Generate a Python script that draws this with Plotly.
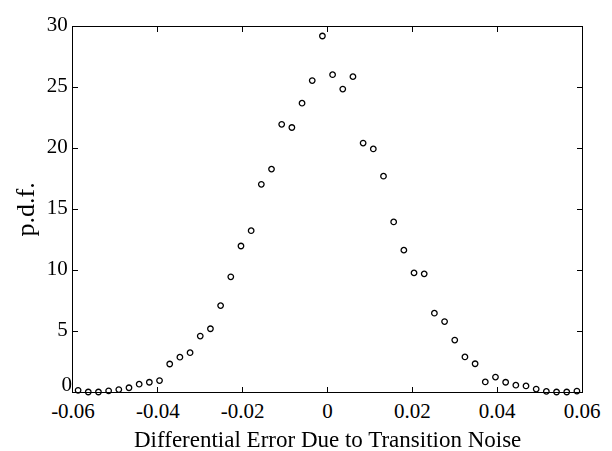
import plotly.graph_objects as go

# Bin centres of the differential error (50 bins)
x_vals = [-0.0588, -0.0564, -0.0540, -0.0516, -0.0492, -0.0468, -0.0444, -0.0420, -0.0396, -0.0372,
          -0.0348, -0.0324, -0.0300, -0.0276, -0.0252, -0.0228, -0.0204, -0.0180, -0.0156, -0.0132,
          -0.0108, -0.0084, -0.0060, -0.0036, -0.0012, 0.0012, 0.0036, 0.0060, 0.0084, 0.0108,
          0.0132, 0.0156, 0.0180, 0.0204, 0.0228, 0.0252, 0.0276, 0.0300, 0.0324, 0.0348,
          0.0372, 0.0396, 0.0420, 0.0444, 0.0468, 0.0492, 0.0516, 0.0540, 0.0564, 0.0588]
pdf_vals = [0.14, 0.0, 0.0, 0.1, 0.2, 0.35, 0.64, 0.8, 0.94, 2.3,
            2.86, 3.23, 4.6, 5.2, 7.1, 9.47, 12.0, 13.26, 17.07, 18.32,
            22.0, 21.74, 23.74, 25.6, 29.26, 26.08, 24.9, 25.92, 20.46, 19.98,
            17.74, 13.98, 11.66, 9.79, 9.71, 6.48, 5.79, 4.27, 2.88, 2.32,
            0.83, 1.23, 0.8, 0.56, 0.5, 0.24, 0.05, 0.0, 0.0, 0.08]

x_ticks = [-0.06, -0.04, -0.02, 0, 0.02, 0.04, 0.06]
x_tick_text = ["-0.06", "-0.04", "-0.02", "0", "0.02", "0.04", "0.06"]
y_ticks = [0, 5, 10, 15, 20, 25, 30]
y_tick_text = ["", "5", "10", "15", "20", "25", "30"]
y_zero_tick = [0]
y_zero_text = ["0"]

font_family = "Liberation Serif, Times New Roman, serif"
tick_font = dict(family=font_family, size=21, color="black")

fig = go.Figure()
fig.add_trace(go.Scatter(
    x=x_vals, y=pdf_vals, mode="markers",
    marker=dict(symbol="circle-open", size=5.5, color="black", line=dict(width=1.3, color="black")),
    showlegend=False, cliponaxis=False, hoverinfo="x+y",
))
# transparent twin so the overlaid axis (carrying the shifted "0" label) is drawn
fig.add_trace(go.Scatter(
    x=x_vals, y=pdf_vals, mode="markers", yaxis="y2", opacity=0,
    showlegend=False, hoverinfo="skip",
))

axis_common = dict(
    showline=True, linecolor="black", linewidth=1.2, mirror="ticks",
    ticks="inside", ticklen=5, tickwidth=1, tickcolor="black",
    showgrid=False, zeroline=False, tickfont=tick_font,
)

fig.update_layout(
    width=612, height=451,
    margin=dict(l=73, r=24, t=17, b=59),
    paper_bgcolor="white", plot_bgcolor="white",
    font=dict(family=font_family, color="black"),
    xaxis=dict(range=[-0.06, 0.06], tickvals=x_ticks, ticktext=x_tick_text, **axis_common),
    yaxis=dict(range=[0, 30], tickvals=y_ticks, ticktext=y_tick_text,
               ticklabelshift=-3, **axis_common),
    yaxis2=dict(range=[0, 30], overlaying="y", side="left", tickvals=y_zero_tick,
                ticktext=y_zero_text, ticks="", showline=False, showgrid=False,
                zeroline=False, tickfont=tick_font, ticklabelshift=-8),
    annotations=[
        dict(text="Differential Error Due to Transition Noise", xref="paper", yref="paper",
             x=0.5, y=0, yshift=-33, xanchor="center", yanchor="top",
             showarrow=False, font=dict(family=font_family, size=23, color="black")),
        dict(text="p.d.f.", xref="paper", yref="paper", x=0, xshift=-48, y=0.5,
             xanchor="center", yanchor="middle", textangle=-90,
             showarrow=False, font=dict(family=font_family, size=26, color="black")),
    ],
)

fig.write_html("out.html", config={"displayModeBar": False},
               post_script="document.body.style.margin='0px';")
